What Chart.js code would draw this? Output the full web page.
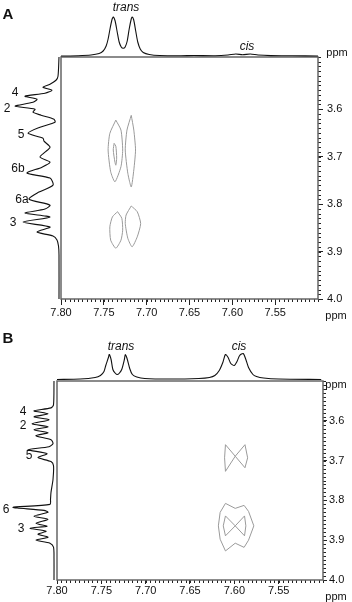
<!DOCTYPE html>
<html>
<head>
<meta charset="utf-8">
<script src="https://cdn.jsdelivr.net/npm/chart.js@4.4.1/dist/chart.umd.min.js"></script>
<style>
  body { margin: 0; background: #fff; }
  #fig { position: relative; width: 352px; height: 602px; overflow: hidden; font-family: "Liberation Sans", Arial, sans-serif; color: #111; }
  #fig canvas { position: absolute; }
  .t { position: absolute; transform: translate(-50%, -50%); white-space: nowrap; line-height: 1; }
  .lbl { font-size: 12px; }
  .ppm { font-size: 11px; }
  .it { font-style: italic; font-size: 12px; }
  .pn { font-weight: bold; font-size: 15px; }
</style>
</head>
<body>
<div id="fig">
  <canvas id="aMain" width="352" height="325" style="left:0;top:0"></canvas>
  <canvas id="aTop" width="257" height="50" style="left:61px;top:8px"></canvas>
  <canvas id="aLeft" width="62" height="242" style="left:0;top:57px"></canvas>
  <canvas id="bMain" width="352" height="277" style="left:0;top:325px"></canvas>
  <canvas id="bTop" width="266" height="37" style="left:57px;top:345px"></canvas>
  <canvas id="bLeft" width="57" height="199" style="left:0;top:381px"></canvas>

  <span class="t pn" style="left:8px;top:13px">A</span>
  <span class="t it" style="left:126px;top:7px">trans</span>
  <span class="t it" style="left:247px;top:46px">cis</span>
  <span class="t ppm" style="left:337px;top:52px">ppm</span>
  <span class="t ppm" style="left:336px;top:315px">ppm</span>
  <span class="t lbl" style="left:15px;top:92px">4</span>
  <span class="t lbl" style="left:7px;top:108px">2</span>
  <span class="t lbl" style="left:21px;top:134px">5</span>
  <span class="t lbl" style="left:18px;top:168px">6b</span>
  <span class="t lbl" style="left:22px;top:199px">6a</span>
  <span class="t lbl" style="left:13px;top:222px">3</span>

  <span class="t pn" style="left:8px;top:337px">B</span>
  <span class="t it" style="left:121px;top:346px">trans</span>
  <span class="t it" style="left:239px;top:346px">cis</span>
  <span class="t ppm" style="left:336px;top:384px">ppm</span>
  <span class="t ppm" style="left:336px;top:596px">ppm</span>
  <span class="t lbl" style="left:23px;top:411px">4</span>
  <span class="t lbl" style="left:23px;top:425px">2</span>
  <span class="t lbl" style="left:29px;top:455px">5</span>
  <span class="t lbl" style="left:6px;top:509px">6</span>
  <span class="t lbl" style="left:21px;top:528px">3</span>
</div>

<script>
// AXES
const xMajorTicks = [7.80, 7.75, 7.70, 7.65, 7.60, 7.55];
const yMajorTicks = [3.6, 3.7, 3.8, 3.9, 4.0];

// PANEL A - 1D projections (intensity in arbitrary units)
const aTopPpm = [7.800, 7.780, 7.765, 7.7555, 7.7508, 7.7473, 7.745, 7.7426, 7.7403, 7.7388, 7.7368, 7.7344, 7.7321, 7.7297, 7.7274, 7.7251, 7.7227, 7.7204, 7.718, 7.7169, 7.7151, 7.7128, 7.7104, 7.7075, 7.704, 7.697, 7.685, 7.660, 7.645, 7.620, 7.605, 7.596, 7.588, 7.579, 7.570, 7.555, 7.530, 7.500];
const aTopInt = [0, 0.3, 1, 2.5, 5, 10, 17, 28, 37, 39, 35, 24, 14, 9, 7.7, 9, 15, 27, 37, 39, 36, 25, 14, 7, 3.5, 1.5, 0.5, 0.3, 0.5, 0.3, 1, 2, 1.2, 2, 1, 0.4, 0.2, 0];

const aLeftPpm = [3.49, 3.5305, 3.539, 3.5474, 3.5537, 3.56, 3.5663, 3.5726, 3.5789, 3.5853, 3.5937, 3.6, 3.6063, 3.6126, 3.6211, 3.6274, 3.6379, 3.6505, 3.661, 3.6674, 3.68, 3.6905, 3.701, 3.7116, 3.7221, 3.7347, 3.7452, 3.76, 3.7747, 3.7895, 3.8021, 3.8105, 3.8189, 3.8273, 3.8379, 3.8484, 3.8589, 3.8673, 3.8758, 3.8884, 3.9073, 4.0];
const aLeftInt = [0, 1, 3, 9, 16, 7, 14, 34, 22, 26, 44, 24, 26, 18, 5, 4, 19, 31, 16, 15, 9, 14, 19, 9, 17, 32, 9, 6, 20, 30, 9, 14, 34, 9, 36, 9, 22, 6, 2, 0.5, 0, 0];

// PANEL A - contours
const aC1X = [7.736, 7.730, 7.728, 7.730, 7.737, 7.742, 7.745, 7.743, 7.736];
const aC1Y = [3.623, 3.644, 3.686, 3.721, 3.753, 3.732, 3.686, 3.651, 3.623];
const aC1iX = [7.738, 7.736, 7.735, 7.736, 7.737, 7.739, 7.738];
const aC1iY = [3.672, 3.678, 3.703, 3.718, 3.712, 3.686, 3.672];
const aC2X = [7.718, 7.715, 7.713, 7.715, 7.718, 7.722, 7.725, 7.723, 7.718];
const aC2Y = [3.613, 3.644, 3.686, 3.728, 3.764, 3.735, 3.686, 3.644, 3.613];
const aC3X = [7.734, 7.729, 7.728, 7.730, 7.736, 7.742, 7.743, 7.740, 7.734];
const aC3Y = [3.816, 3.830, 3.855, 3.876, 3.893, 3.876, 3.848, 3.827, 3.816];
const aC4X = [7.718, 7.711, 7.707, 7.711, 7.717, 7.722, 7.725, 7.724, 7.718];
const aC4Y = [3.804, 3.816, 3.841, 3.869, 3.890, 3.872, 3.841, 3.823, 3.804];

// PANEL B - 1D projections
const bTopPpm = [7.800, 7.774, 7.757, 7.751, 7.747, 7.745, 7.742, 7.741, 7.739, 7.737, 7.734, 7.732, 7.730, 7.727, 7.724, 7.723, 7.721, 7.718, 7.715, 7.710, 7.701, 7.673, 7.640, 7.628, 7.622, 7.617, 7.613, 7.610, 7.607, 7.604, 7.600, 7.597, 7.594, 7.590, 7.587, 7.584, 7.579, 7.575, 7.567, 7.550, 7.502];
const bTopInt = [0, 0.5, 2, 4, 8, 14, 22, 25, 20, 10, 6, 5, 6, 10, 20, 25, 21, 11, 5, 2.5, 1, 0.5, 1, 2, 4, 9, 17, 25, 22, 16, 14, 18, 24, 26, 20, 12, 5, 3, 1.5, 0.5, 0];

const bLeftPpm = [3.5, 3.56, 3.5675, 3.575, 3.5825, 3.59, 3.5975, 3.6075, 3.615, 3.6225, 3.63, 3.6375, 3.6475, 3.6575, 3.665, 3.6725, 3.6825, 3.6925, 3.7025, 3.7125, 3.7475, 3.78, 3.7975, 3.81, 3.8175, 3.825, 3.83, 3.84, 3.8475, 3.8575, 3.865, 3.87, 3.8775, 3.885, 3.8925, 3.9, 3.9075, 3.9175, 3.9475, 4.0];
const bLeftInt = [0, 0.5, 3, 20, 6, 20, 5, 22, 6, 20, 6, 18, 3, 1, 5, 26, 7, 16, 3, 0.5, 1, 3, 3.5, 4, 41, 10, 6, 20, 6, 18, 7, 24, 8, 16, 6, 18, 4, 0.5, 0, 0];

// PANEL B - contours
const bC1X = [7.599, 7.610, 7.611, 7.610, 7.599, 7.588, 7.585, 7.588, 7.599];
const bC1Y = [3.689, 3.660, 3.693, 3.727, 3.689, 3.660, 3.693, 3.718, 3.689];
const bC2X = [7.599, 7.610, 7.6125, 7.610, 7.599, 7.5885, 7.587, 7.5885, 7.599];
const bC2Y = [3.864, 3.839, 3.864, 3.889, 3.864, 3.839, 3.864, 3.889, 3.864];
const bC3X = [7.610, 7.599, 7.589, 7.584, 7.578, 7.584, 7.589, 7.599, 7.610, 7.616, 7.618, 7.616, 7.610];
const bC3Y = [3.8075, 3.82, 3.8125, 3.8275, 3.864, 3.90, 3.918, 3.9075, 3.927, 3.8975, 3.864, 3.83, 3.8075];

Chart.defaults.font.family = '"Liberation Sans", Arial, sans-serif';
Chart.defaults.color = '#111';

const pts = (xs, ys) => xs.map((x, i) => ({ x: x, y: ys[i] }));

// box around the 2D area + minor ticks
const frame = {
  id: 'frame',
  afterDraw(chart, args, opts) {
    const { ctx, chartArea: a, scales } = chart;
    const x = scales.x, y = scales.y;
    ctx.save();
    ctx.strokeStyle = '#222';
    ctx.lineWidth = 1;
    ctx.beginPath();
    let n = Math.round((x.max - x.min) / opts.xStep);
    for (let i = 0; i <= n; i++) {
      const px = Math.round(x.getPixelForValue(x.min + i * opts.xStep)) + 0.5;
      ctx.moveTo(px, a.bottom);
      ctx.lineTo(px, a.bottom + 3);
    }
    n = Math.round((y.max - y.min) / opts.yStep);
    const y0 = Math.ceil(y.min / opts.yStep - 1e-6) * opts.yStep;
    for (let i = 0; y0 + i * opts.yStep <= y.max + 1e-9; i++) {
      const py = Math.round(y.getPixelForValue(y0 + i * opts.yStep)) + 0.5;
      ctx.moveTo(a.right, py);
      ctx.lineTo(a.right + 3, py);
    }
    ctx.stroke();
    ctx.strokeStyle = '#666';
    ctx.lineWidth = 1.5;
    ctx.strokeRect(a.left, a.top, a.right - a.left, a.bottom - a.top);
    ctx.restore();
  }
};

function spectrum2d(id, o) {
  return new Chart(document.getElementById(id), {
    type: 'scatter',
    data: {
      datasets: o.contours.map((c) => ({
        data: c,
        showLine: true,
        pointRadius: 0,
        borderColor: '#9a9a9a',
        borderWidth: 1,
        tension: o.tension,
      })),
    },
    options: {
      responsive: false,
      animation: false,
      events: [],
      layout: { padding: { left: o.left, top: o.top, right: 0, bottom: 0 } },
      plugins: {
        legend: { display: false },
        tooltip: { enabled: false },
        frame: { xStep: 0.005, yStep: 0.01 },
      },
      scales: {
        x: {
          type: 'linear',
          position: 'bottom',
          reverse: true,
          min: 7.5,
          max: 7.8,
          afterBuildTicks: (s) => { s.ticks = xMajorTicks.map((value) => ({ value })); },
          afterFit: (s) => { s.height = o.xAxisH; },
          grid: { drawOnChartArea: false, tickLength: o.xTick, tickColor: '#222' },
          border: { display: false },
          ticks: { padding: o.xPad, font: { size: 11 }, maxRotation: 0, autoSkip: false, callback: (v) => v.toFixed(2) },
        },
        y: {
          type: 'linear',
          position: 'right',
          reverse: true,
          min: o.yMin,
          max: 4.0,
          afterBuildTicks: (s) => { s.ticks = yMajorTicks.map((value) => ({ value })); },
          afterFit: (s) => { s.width = o.yAxisW; },
          grid: { drawOnChartArea: false, tickLength: o.yTick, tickColor: '#222' },
          border: { display: false },
          ticks: { padding: o.yPad, font: { size: 11 }, autoSkip: false, callback: (v) => v.toFixed(1) },
        },
      },
    },
    plugins: [frame],
  });
}

function projection(id, data, xOpt, yOpt) {
  return new Chart(document.getElementById(id), {
    type: 'scatter',
    data: {
      datasets: [{
        data: data,
        showLine: true,
        pointRadius: 0,
        borderColor: '#111',
        borderWidth: 1.1,
        tension: 0.25,
        clip: false,
      }],
    },
    options: {
      responsive: false,
      animation: false,
      events: [],
      layout: { padding: 0 },
      plugins: { legend: { display: false }, tooltip: { enabled: false } },
      scales: {
        x: Object.assign({ type: 'linear', display: false }, xOpt),
        y: Object.assign({ type: 'linear', display: false }, yOpt),
      },
    },
  });
}

// PANEL A
spectrum2d('aMain', {
  contours: [pts(aC1X, aC1Y), pts(aC1iX, aC1iY), pts(aC2X, aC2Y), pts(aC3X, aC3Y), pts(aC4X, aC4Y)],
  tension: 0.2,
  left: 61, top: 57, xAxisH: 26, yAxisW: 34,
  yMin: 3.49, xTick: 6, xPad: 1, yTick: 5, yPad: 4,
});
projection('aTop', pts(aTopPpm, aTopInt),
  { reverse: true, min: 7.5, max: 7.8 },
  { min: -2, max: 48 });
projection('aLeft', pts(aLeftInt, aLeftPpm),
  { reverse: true, min: -3, max: 59 },
  { reverse: true, min: 3.49, max: 4.0 });

// PANEL B
spectrum2d('bMain', {
  contours: [pts(bC1X, bC1Y), pts(bC2X, bC2Y), pts(bC3X, bC3Y)],
  tension: 0,
  left: 57, top: 56, xAxisH: 22, yAxisW: 29,
  yMin: 3.5, xTick: 4, xPad: 0, yTick: 4, yPad: 2,
});
projection('bTop', pts(bTopPpm, bTopInt),
  { reverse: true, min: 7.5, max: 7.8 },
  { min: -2.5, max: 34.5 });
projection('bLeft', pts(bLeftInt, bLeftPpm),
  { reverse: true, min: -3, max: 54 },
  { reverse: true, min: 3.5, max: 4.0 });
</script>
</body>
</html>
